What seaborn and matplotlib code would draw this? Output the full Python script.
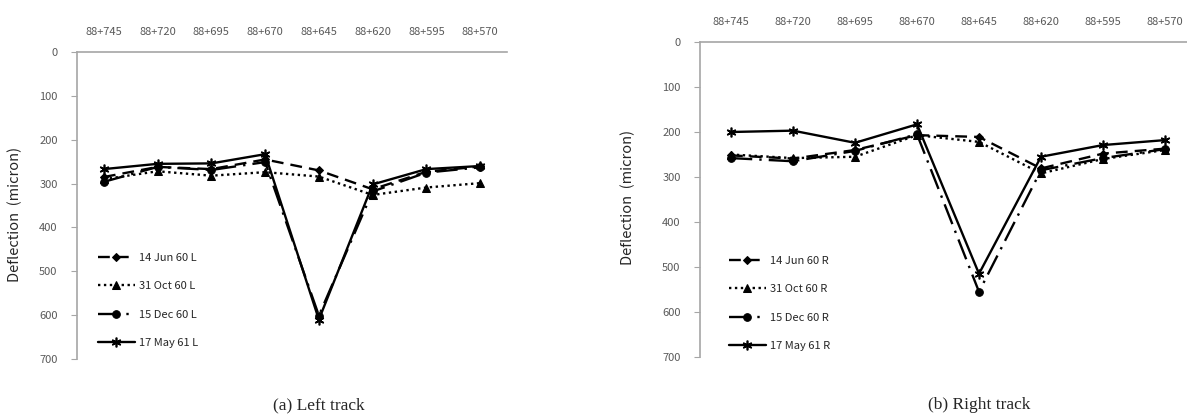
import matplotlib
matplotlib.use("Agg")
import matplotlib.pyplot as plt
import seaborn as sns
import pandas as pd

stations = ["88+745", "88+720", "88+695", "88+670", "88+645", "88+620", "88+595", "88+570"]

# left track deflections (micron)
jun60_L = [285, 262, 267, 245, 270, 313, 273, 261]
oct60_L = [290, 272, 282, 274, 284, 326, 309, 299]
dec60_L = [296, 262, 269, 251, 601, 318, 275, 263]
may61_L = [267, 255, 254, 233, 610, 302, 267, 260]

# right track deflections (micron)
jun60_R = [252, 259, 240, 207, 211, 281, 248, 237]
oct60_R = [250, 258, 255, 207, 222, 292, 260, 240]
dec60_R = [258, 265, 242, 205, 555, 285, 258, 238]
may61_R = [200, 197, 224, 183, 515, 255, 229, 218]

dates = ["14 Jun 60", "31 Oct 60", "15 Dec 60", "17 May 61"]

styles = [
    dict(linestyle=(0, (5, 3)), marker="D", markersize=4.5),
    dict(linestyle=(0, (1, 1.5)), marker="^", markersize=5.5),
    dict(linestyle=(0, (9, 3, 1, 3)), marker="o", markersize=5.5),
    dict(linestyle="-", marker=(6, 2, 0), markersize=7, markeredgewidth=1.2),
]

sns.set_style("white")
plt.rcParams['font.family'] = ['Noto Sans CJK KR', 'DejaVu Sans']

fig = plt.figure(figsize=(11.87, 4.19), dpi=100)
ax_l = fig.add_axes([77 / 1187, 1 - 359 / 419, 430 / 1187, 307 / 419])
ax_r = fig.add_axes([700 / 1187, 1 - 357 / 419, 496 / 1187, 315 / 419])

gray = "#a6a6a6"
tick_col = "#595959"


def draw(ax, series, suffix, leg_xy, ylab_xy, caption, cap_x):
    for name, vals, st in zip(dates, series, styles):
        df = pd.DataFrame({"station": stations, "deflection": vals})
        sns.lineplot(data=df, x="station", y="deflection", ax=ax, color="black",
                     linewidth=1.7, markeredgecolor="black", label=f"{name} {suffix}",
                     sort=False, **st)
    ax.set_ylim(700, 0)
    ax.set_xlim(-0.5, len(stations) - 0.5)
    ax.set_yticks(range(0, 701, 100))
    ax.xaxis.tick_top()
    ax.tick_params(axis="x", length=0, labelsize=8, colors=tick_col, pad=11)
    ax.tick_params(axis="y", length=4, width=0.8, color=gray, labelsize=8,
                   labelcolor=tick_col, left=True, pad=10)
    for side in ["bottom", "right"]:
        ax.spines[side].set_visible(False)
    for side in ["top", "left"]:
        ax.spines[side].set_color(gray)
        ax.spines[side].set_linewidth(1.2)
    ax.set_xlabel("")
    ax.set_ylabel("")
    fig.text(ylab_xy[0] / 1187, 1 - ylab_xy[1] / 419, "Deflection  (micron)", rotation=90,
             ha="center", va="center", fontsize=10.5)
    ax.legend(loc="upper left", bbox_to_anchor=leg_xy, bbox_transform=fig.transFigure,
              frameon=False, fontsize=8, handlelength=3.3, handletextpad=0.4,
              labelspacing=1.65, borderpad=0, borderaxespad=0)
    fig.text(cap_x / 1187, 1 - 405 / 419, caption, ha="center", va="center",
             fontsize=12.5, family="Liberation Serif")


draw(ax_l, [jun60_L, oct60_L, dec60_L, may61_L], "L", (98 / 1187, 1 - 253 / 419),
     (15, 214), "(a) Left track", 319)
draw(ax_r, [jun60_R, oct60_R, dec60_R, may61_R], "R", (729 / 1187, 1 - 256 / 419),
     (628, 197), "(b) Right track", 979)

fig.savefig("out.png", dpi=100)
